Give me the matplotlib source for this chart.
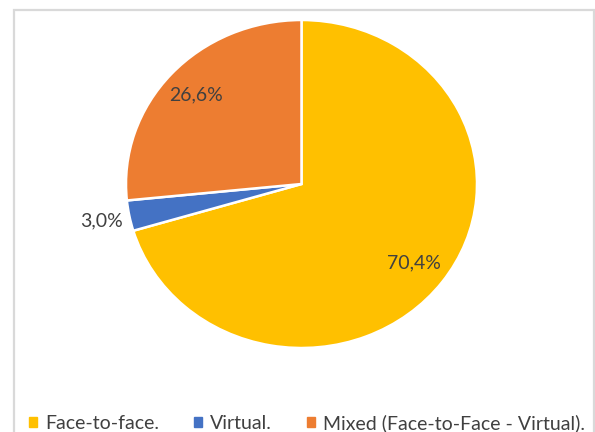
import numpy as np
import matplotlib
matplotlib.use('Agg')
import matplotlib.pyplot as plt
from matplotlib.patches import Rectangle

plt.rcParams['font.family'] = ['Lato', 'DejaVu Sans']

categories = ['Face-to-face.', 'Virtual.', 'Mixed (Face-to-Face - Virtual).']
shares = [70.4, 3.0, 26.6]
colors = ['#FFC000', '#4472C4', '#ED7D31']
label_dist = [0.80, 1.17, 0.81]

fig = plt.figure(figsize=(5.95, 4.32), dpi=100)

# light grey chart border (runs off the bottom of the picture)
fig.add_artist(Rectangle((14 / 595, -0.05), 580 / 595, 1 - 10 / 432 + 0.05,
                         transform=fig.transFigure, fill=False,
                         edgecolor='#d9d9d9', linewidth=1.6))

ax = fig.add_axes([126 / 595, 84 / 432, 351 / 595, 328 / 432])
wedges, _ = ax.pie(shares, colors=colors, startangle=90, counterclock=False,
                   wedgeprops=dict(edgecolor='white', linewidth=1.8))
ax.set_aspect('auto')
ax.set_xlim(-1, 1)
ax.set_ylim(-1, 1)

for w, v, d in zip(wedges, shares, label_dist):
    mid = np.deg2rad((w.theta1 + w.theta2) / 2)
    x, y = d * np.cos(mid), d * np.sin(mid)
    ha = 'right' if d > 1 else 'center'
    if d > 1:
        x += 0.13
    ax.text(x, y, f'{v:.1f}%'.replace('.', ','), ha=ha, va='center',
            fontsize=14, color='#404040')

handles = [Rectangle((0, 0), 1, 1, color=c) for c in colors]
fig.legend(handles, categories, loc='center', bbox_to_anchor=(307 / 595, 1 - 423 / 432),
           ncol=3, frameon=False, fontsize=14, handlelength=0.42, handleheight=0.42,
           handletextpad=0.4, columnspacing=1.8, labelcolor='#404040')

fig.savefig('out.png', dpi=100)
